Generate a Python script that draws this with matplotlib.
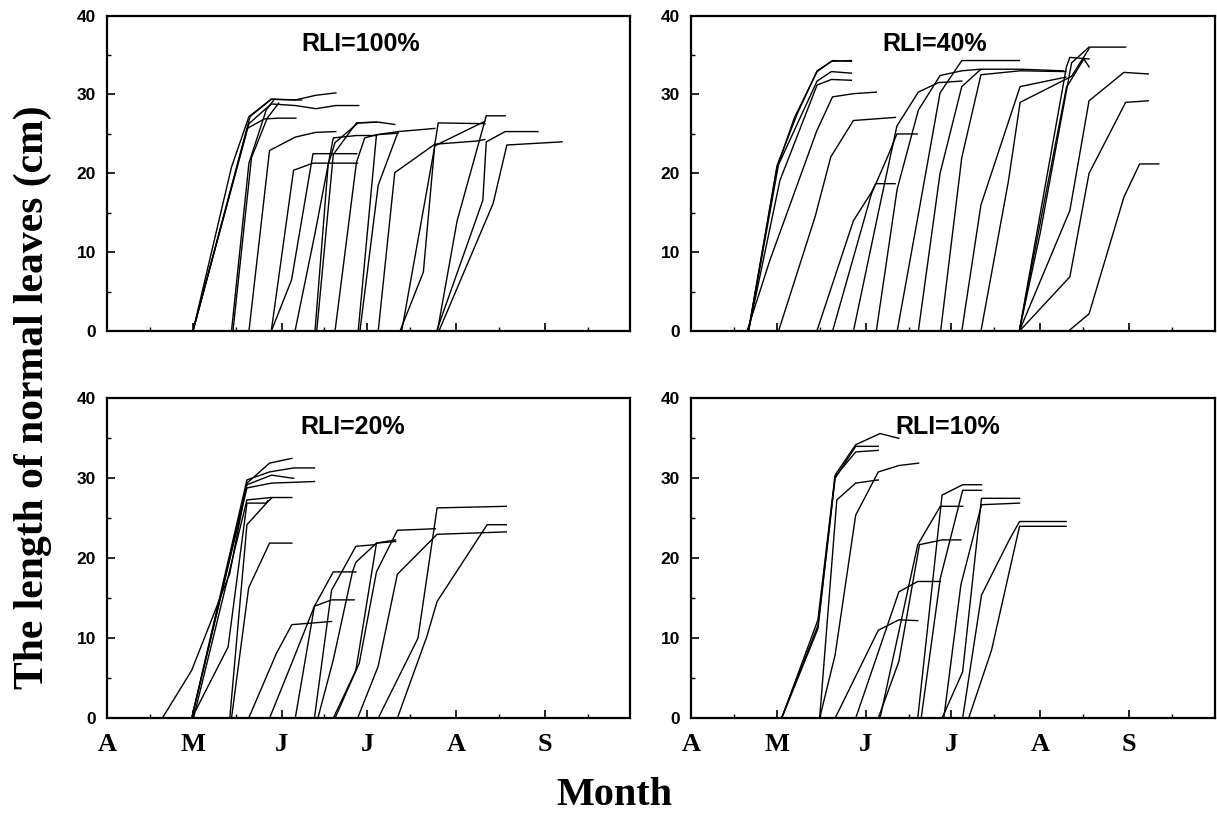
import matplotlib
matplotlib.use("Agg")
import matplotlib.pyplot as plt

# x values are days after April 1, y values are leaf length (cm)
month_labels = ["A", "M", "J", "J", "A", "S"]
month_starts = [0, 30, 61, 91, 122, 153]
mid_months = [15, 45, 76, 106, 137, 168]

rli100_days = [
    [30, 43.5, 49.6, 57.4, 65.8, 73, 80],
    [30, 49.6, 57.4, 65.8, 73, 80, 88],
    [30, 49, 55, 60, 66],
    [30, 50, 57.4, 68],
    [43.5, 49.6, 55.6, 58.5],
    [44, 50.5, 56, 60],
    [49.6, 56.8, 65.8, 73, 80],
    [57.4, 65.2, 72, 87.6],
    [57.4, 64.5, 72, 87.3],
    [65.7, 72.7, 79.1, 87.2, 94],
    [72.7, 77.3, 79.7, 87.8, 94.2],
    [73.3, 79.1, 87.2, 94.8, 100.6],
    [79.7, 87.2, 90.1, 94.2, 101.8],
    [87.8, 94.2, 101.8],
    [88.4, 94.8, 101.8, 114.6],
    [94.8, 100.6, 114.6, 129.2, 132.1],
    [102.4, 110.6, 114.6, 115.8, 132.1],
    [103, 114.6, 132.1],
    [115.2, 131.4, 132.6, 139.2, 150.7],
    [115.5, 122.4, 132.6, 139.2],
    [116, 135, 139.8, 159.1],
]
rli100_len = [
    [0, 20.8, 27.2, 29.4, 29.3, 29.9, 30.2],
    [0, 26.3, 28.8, 28.6, 28.2, 28.6, 28.6],
    [0, 25.7, 26.9, 27, 27],
    [0, 27.2, 29.4, 29.3],
    [0, 21.3, 28, 29.4],
    [0, 22, 27, 28.9],
    [0, 22.9, 24.6, 25.2, 25.3],
    [0, 20.4, 21.3, 21.3],
    [0, 6.5, 22.5, 22.5],
    [0, 12.4, 24.5, 24.8, 24.8],
    [0, 21.1, 23.9, 26.4, 26.5],
    [0, 22.4, 26.4, 26.5, 26.2],
    [0, 21.4, 24.5, 24.9, 25.3],
    [0, 24.9, 25.1],
    [0, 18.5, 25.3, 25.7],
    [0, 20.1, 23.7, 24.1, 24.3],
    [0, 7.5, 23.7, 26.4, 26.3],
    [0, 23.5, 26.6],
    [0, 16.6, 24, 25.3, 25.3],
    [0, 14, 27.3, 27.3],
    [0, 16.2, 23.6, 24],
]

rli40_days = [
    [20, 30, 36, 44, 49, 56],
    [20, 30, 37, 44, 49.5, 56],
    [20, 30.5, 44, 49, 56],
    [20, 31, 44, 49, 56],
    [19.5, 27.5, 43.9, 49.4, 56.7, 64.7],
    [30.5, 43.3, 48.8, 56.7, 71.4],
    [43.9, 56.7, 63, 64.5, 71.3],
    [49.4, 63, 69, 71.9, 79],
    [56.7, 65.4, 71.9, 79.4, 86.4, 94.6],
    [64.7, 72, 79.4, 87, 94.6, 101],
    [72, 80, 87, 94.6, 114.7],
    [79.4, 87, 94.6, 101.3, 115, 130],
    [87.2, 94.6, 101.3, 115, 131],
    [94.6, 101.3, 115, 131],
    [101.3, 110.9, 115, 133, 139.1],
    [114.7, 122, 133, 139.1, 151.9],
    [114.7, 131.2, 132.4, 139.1],
    [114.7, 131.2, 137.3, 139.1],
    [114.7, 132.4, 139.1, 151.3, 159.8],
    [114.7, 132.4, 139.1, 151.9, 159.8],
    [131.8, 139.1, 151.3, 156.8, 163.5],
]
rli40_len = [
    [0, 20.7, 27, 32.9, 34.2, 34.3],
    [0, 21, 27.5, 33, 34.3, 34.2],
    [0, 21.1, 31.7, 32.9, 32.7],
    [0, 19.1, 31.2, 31.9, 31.8],
    [0, 9, 25.4, 29.7, 30.1, 30.3],
    [0, 14.5, 22.1, 26.7, 27.1],
    [0, 14, 17.6, 18.7, 18.7],
    [0, 17.4, 22.4, 25, 25],
    [0, 15, 26, 30.3, 31.5, 31.7],
    [0, 18, 28, 32.4, 33, 33.2],
    [0, 16, 30.2, 34.3, 34.3],
    [0, 20, 31, 33.2, 33.2, 33],
    [0, 22, 32.5, 33, 32.9],
    [0, 16, 31, 32.2],
    [0, 19, 29, 32.3, 35.8],
    [0, 12.4, 34, 36, 36],
    [0, 33.5, 34.7, 34.5],
    [0, 30.9, 34.5, 33.5],
    [0, 15.3, 29.2, 32.8, 32.6],
    [0, 6.9, 20, 29, 29.2],
    [0, 2.2, 17, 21.2, 21.2],
]

rli20_days = [
    [19.3, 29.6, 42.9, 48.9, 56.8, 64.6],
    [29.6, 48.9, 56.8, 65.2, 72.5],
    [29.6, 48.9, 57.5, 65.2],
    [29.6, 48.9, 57.5, 72.5],
    [29.6, 42.3, 48.9, 55.6, 56.2],
    [30.2, 48.9, 57.5, 64.6],
    [42.9, 48.9, 56, 57.5],
    [43.5, 49.5, 56.8, 64.6],
    [49.5, 59.2, 64.6, 78.5],
    [56.8, 64.6, 72.5, 78.5, 86.4],
    [65.8, 72.5, 79.1, 87],
    [72.5, 78.5, 87, 93.6],
    [73.7, 79.1, 85.8, 87, 94.2, 100.9],
    [79.1, 87, 94.2, 100.9],
    [79.7, 88.2, 94.2, 101.5, 114.8],
    [87.6, 94.8, 101.5, 115.4, 139.6],
    [94.8, 108.7, 115.4, 139.6],
    [101.5, 111.8, 115.4, 132.9, 139.6],
]
rli20_len = [
    [0, 6, 18.1, 29.4, 31.9, 32.5],
    [0, 29.8, 30.8, 31.3, 31.3],
    [0, 29.2, 30.4, 30],
    [0, 28.8, 29.4, 29.6],
    [0, 8.9, 26.9, 26.9, 27.2],
    [0, 27.3, 27.6, 27.6],
    [0, 24.2, 27, 27.5],
    [0, 16.3, 21.9, 21.9],
    [0, 8.1, 11.7, 12.1],
    [0, 6.9, 14, 14.8, 14.8],
    [0, 14, 18.3, 18.3],
    [0, 16, 21.5, 21.7],
    [0, 7.3, 18.3, 19.5, 21.9, 22.3],
    [0, 6, 21.9, 22.1],
    [0, 6.9, 18.3, 23.5, 23.7],
    [0, 6.5, 18, 23, 23.3],
    [0, 10, 26.3, 26.5],
    [0, 10.2, 14.6, 24.2, 24.2],
]

rli10_days = [
    [31.6, 44.3, 50.3, 57.5, 66, 72.6],
    [31.6, 44.3, 50.3, 57.5, 65.4],
    [31.6, 44.3, 50.3, 57.5, 65.4],
    [44.9, 50.9, 57.5, 65.4],
    [44.9, 50.3, 57.5, 65.4, 72.6, 79.5],
    [50.3, 65.4, 72.6, 79.2],
    [57.5, 72.6, 79.2, 87.1],
    [65.4, 72.6, 79.8, 87.7, 94.3],
    [66, 79.2, 87.1, 94.9],
    [79.2, 87.7, 94.9, 101.5],
    [80.4, 87.1, 94.9, 101.5],
    [87.7, 94.9, 101.5, 114.8],
    [88.3, 94.3, 101.5, 114.8],
    [94.9, 101.5, 111.2, 114.8, 131.1],
    [97, 105, 114.8, 131.1],
]
rli10_len = [
    [0, 12.3, 30.4, 34.2, 35.6, 35],
    [0, 11.2, 30.0, 34, 34],
    [0, 11.6, 30.2, 33.3, 33.5],
    [0, 27.3, 29.4, 29.8],
    [0, 7.9, 25.4, 30.8, 31.6, 31.9],
    [0, 11, 12.3, 12.2],
    [0, 15.8, 17.1, 17.1],
    [0, 7.1, 21.7, 22.3, 22.3],
    [0, 21.7, 26.5, 26.5],
    [0, 27.9, 29.2, 29.2],
    [0, 17.5, 28.5, 28.5],
    [0, 5.8, 27.5, 27.5],
    [0, 16.7, 26.7, 26.9],
    [0, 15.4, 22.3, 24.6, 24.6],
    [0, 8.5, 24, 24],
]

panels = [
    ("RLI=100%", rli100_days, rli100_len, [0.088, 0.595, 0.430, 0.386], False, 0.485),
    ("RLI=40%", rli40_days, rli40_len, [0.568, 0.595, 0.430, 0.386], False, 0.465),
    ("RLI=20%", rli20_days, rli20_len, [0.088, 0.122, 0.430, 0.391], True, 0.47),
    ("RLI=10%", rli10_days, rli10_len, [0.568, 0.122, 0.430, 0.391], True, 0.49),
]

fig = plt.figure(figsize=(12.17, 8.18), dpi=100)

for title, xs, ys, rect, show_months, tx in panels:
    ax = fig.add_axes(rect)
    for x, y in zip(xs, ys):
        ax.plot(x, y, color="black", lw=1.0)
    ax.set_xlim(0, 183)
    ax.set_ylim(0, 40)
    ax.set_xticks(month_starts)
    ax.set_xticks(mid_months, minor=True)
    ax.set_yticks([0, 10, 20, 30, 40])
    ax.set_yticks([5, 15, 25, 35], minor=True)
    ax.tick_params(direction="in", which="major", length=6, width=1.2)
    ax.tick_params(direction="in", which="minor", length=3, width=1.0)
    ax.tick_params(axis="y", pad=8)
    ax.tick_params(axis="x", pad=11)
    if show_months:
        ax.set_xticklabels(month_labels, fontfamily="Liberation Serif",
                           fontweight="bold", fontsize=19)
    else:
        ax.set_xticklabels([])
    for lab in ax.get_yticklabels():
        lab.set_fontfamily("Liberation Sans")
        lab.set_fontweight("bold")
        lab.set_fontsize(12.5)
    for sp in ax.spines.values():
        sp.set_linewidth(1.6)
    ax.text(tx, 0.91, title, transform=ax.transAxes, ha="center", va="center",
            fontfamily="Liberation Sans", fontweight="bold", fontsize=18)

fig.text(0.027, 0.515, "The length of normal leaves (cm)", rotation=90,
         ha="center", va="center", fontfamily="Liberation Serif",
         fontweight="bold", fontsize=30)
fig.text(0.505, 0.027, "Month", ha="center", va="center",
         fontfamily="Liberation Serif", fontweight="bold", fontsize=29)

plt.savefig("out.png", dpi=100)
